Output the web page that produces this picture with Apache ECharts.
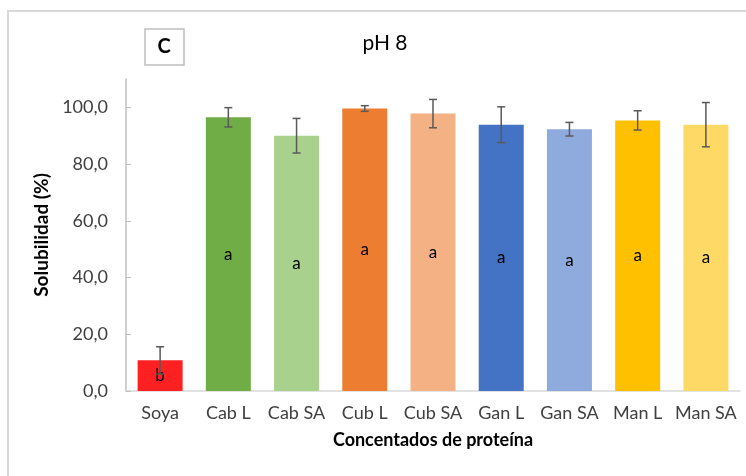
<!DOCTYPE html>
<html>
<head>
<meta charset="utf-8">
<script src="https://cdn.jsdelivr.net/npm/echarts@6/dist/echarts.min.js"></script>
<style>
html,body{margin:0;padding:0;background:#fff;}
#chart{width:746px;height:476px;}
</style>
</head>
<body>
<div id="chart"></div>
<script>
var categories = ['Soya', 'Cab L', 'Cab SA', 'Cub L', 'Cub SA', 'Gan L', 'Gan SA', 'Man L', 'Man SA'];
var values = [10.8, 96.5, 90.0, 99.6, 97.8, 93.9, 92.3, 95.4, 93.9];
var errors = [4.8, 3.4, 6.1, 1.0, 5.0, 6.3, 2.4, 3.4, 7.8];
var letters = ['b', 'a', 'a', 'a', 'a', 'a', 'a', 'a', 'a'];
var colors = ['#FF2121', '#70AD47', '#A9D18E', '#ED7D31', '#F4B183', '#4472C4', '#8FAADC', '#FFC000', '#FFD966'];
var yTicks = [0, 20, 40, 60, 80, 100];

var FONT = 'Lato, "Open Sans", sans-serif';
var chart = echarts.init(document.getElementById('chart'), null, {renderer: 'canvas'});

var barData = values.map(function (v, i) {
  return {value: v, itemStyle: {color: colors[i]}, label: {formatter: letters[i]}};
});
var errData = values.map(function (v, i) { return [i, v - errors[i], v + errors[i]]; });

chart.setOption({
  animation: false,
  backgroundColor: '#fff',
  grid: {left: 126, right: 6, top: 79, height: 312, containLabel: false},
  xAxis: {
    type: 'category',
    data: categories,
    name: 'Concentados de proteína',
    nameLocation: 'middle',
    nameGap: 40,
    nameTextStyle: {fontFamily: FONT, fontSize: 18, fontWeight: 'bold', color: '#000'},
    axisLine: {lineStyle: {color: '#d9d9d9', width: 1.5}},
    axisTick: {show: false},
    axisLabel: {fontFamily: FONT, fontSize: 18, color: '#404040', margin: 13, interval: 0, hideOverlap: false}
  },
  yAxis: {
    type: 'value',
    min: 0,
    max: 110,
    interval: 20,
    name: 'Solubilidad (%)',
    nameLocation: 'middle',
    nameGap: 72,
    nameTextStyle: {fontFamily: FONT, fontSize: 19, fontWeight: 'bold', color: '#000'},
    splitLine: {show: false},
    axisLine: {show: true, lineStyle: {color: '#bfbfbf', width: 1.5}},
    axisTick: {show: true, inside: true, length: 5, lineStyle: {color: '#bfbfbf'}, customValues: yTicks},
    axisLabel: {
      fontFamily: FONT, fontSize: 18, color: '#404040', margin: 18,
      customValues: yTicks,
      formatter: function (v) { return v.toFixed(1).replace('.', ','); }
    }
  },
  series: [
    {
      type: 'bar',
      data: barData,
      barWidth: 45,
      label: {show: true, position: 'inside', fontFamily: FONT, fontSize: 17, color: '#000'}
    },
    {
      type: 'custom',
      data: errData,
      z: 10,
      renderItem: function (params, api) {
        var x = api.value(0);
        var lo = api.coord([x, api.value(1)]);
        var hi = api.coord([x, api.value(2)]);
        var hw = 4;
        var style = {stroke: '#595959', lineWidth: 1.5, fill: null};
        return {
          type: 'group',
          children: [
            {type: 'line', shape: {x1: lo[0], y1: lo[1], x2: hi[0], y2: hi[1]}, style: style},
            {type: 'line', shape: {x1: hi[0] - hw, y1: hi[1], x2: hi[0] + hw, y2: hi[1]}, style: style},
            {type: 'line', shape: {x1: lo[0] - hw, y1: lo[1], x2: lo[0] + hw, y2: lo[1]}, style: style}
          ]
        };
      }
    }
  ],
  graphic: [
    {type: 'rect', shape: {x: 8, y: 11, width: 800, height: 500}, style: {fill: null, stroke: '#d9d9d9', lineWidth: 2}, silent: true},
    {type: 'rect', shape: {x: 145, y: 29, width: 39, height: 36}, style: {fill: '#fff', stroke: '#bfbfbf', lineWidth: 1.5}},
    {type: 'text', x: 164, y: 47, style: {text: 'C', fontFamily: FONT, fontSize: 20, fontWeight: 'bold', fill: '#000', align: 'center', verticalAlign: 'middle'}},
    {type: 'text', x: 385, y: 43, style: {text: 'pH 8', fontFamily: FONT, fontSize: 21, fill: '#000', align: 'center', verticalAlign: 'middle'}}
  ]
});
</script>
</body>
</html>
